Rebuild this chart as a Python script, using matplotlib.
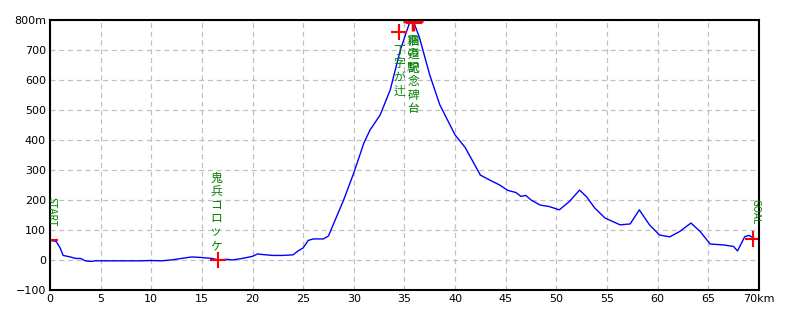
import matplotlib
matplotlib.use("Agg")
import matplotlib.pyplot as plt

plt.rcParams['font.family'] = ['DejaVu Sans']

# elevation profile (km, m)
dist = [0, 0.6, 1.0, 1.3, 2.0, 2.5, 3.0, 3.5, 4.0, 4.5, 5, 6, 7, 8, 9, 10, 11, 12, 13,
        14, 15, 16, 16.6, 17.5, 18, 19, 20, 20.5, 21, 22, 23, 24, 24.5, 25, 25.5, 26,
        27, 27.5, 28, 29, 30, 31, 31.6, 32.6, 33.6, 34.6, 35.5, 35.9, 36.5, 37.5, 38.5,
        40, 41, 42.5, 43.5, 44.4, 45.2, 46, 46.5, 47, 47.5, 48.4, 49.3, 50.3, 51.3,
        52.3, 53.0, 53.8, 54.8, 56.3, 57.3, 58.2, 59.2, 60.2, 61.2, 62.2, 63.3, 64.2,
        65.2, 66.5, 67.5, 67.9, 68.6, 69.0, 69.4]
elev = [65, 62, 40, 15, 10, 5, 5, -3, -5, -3, -3, -3, -3, -3, -3, -2, -3, 0, 5,
        10, 8, 5, 0, 2, 0, 5, 12, 20, 18, 15, 15, 17, 30, 40, 65, 70,
        70, 80, 120, 200, 290, 390, 433, 483, 567, 700, 790, 795, 740, 617, 517,
        417, 375, 283, 265, 250, 232, 225, 212, 215, 200, 183, 178, 167, 195,
        233, 210, 173, 140, 117, 120, 167, 117, 83, 77, 95, 123, 95,
        53, 50, 45, 30, 77, 82, 75]

# waypoints (km, m) and their labels
wp_x = [0, 16.6, 34.5, 35.8, 35.9, 69.4]
wp_y = [65, 0, 760, 795, 790, 70]
wp_label = ["START", "鬼兵コロッケ", "丁字が辻", "霧の駅", "旧道記念碑台", "GOAL"]

fig = plt.figure(figsize=(8, 3.2), dpi=100)
ax = fig.add_axes([0.0625, 0.094, 0.886, 0.8435])

ax.plot(dist, elev, color='blue', lw=1)
ax.plot(wp_x, wp_y, '+', color='red', ms=12, mew=1.5)
ax.plot(wp_x[3], wp_y[3], '+', color='red', ms=14, mew=2.5)

green = '#008000'
jp = ['Noto Sans CJK JP', 'DejaVu Sans']
for x, y, lab in zip(wp_x, wp_y, wp_label):
    if lab == "START":
        ax.text(0.15, 110, lab, rotation=-90, color=green, fontsize=7,
                ha='center', va='bottom', family=jp)
    elif lab == "GOAL":
        ax.text(69.7, 118, lab, rotation=-90, color=green, fontsize=7,
                ha='center', va='bottom', family=jp)
    elif lab == "鬼兵コロッケ":
        ax.text(x - 0.2, 295, "\n".join(lab), color=green, fontsize=8.5,
                ha='center', va='top', family=jp, linespacing=1.05)
    else:
        ax.text(x, y - 40, "\n".join(lab), color=green, fontsize=8.5,
                ha='center', va='top', family=jp, linespacing=1.05)

ax.set_xlim(0, 70)
ax.set_ylim(-100, 800)
xt = list(range(0, 71, 5))
yt = list(range(-100, 801, 100))
ax.set_xticks(xt)
ax.set_yticks(yt)
ax.set_xticklabels([str(v) for v in xt[:-1]] + ["70km"])
ax.set_yticklabels([str(v).replace('-', '−') for v in yt[:-1]] + ["800m"])
ax.tick_params(length=0, labelsize=8, pad=3)
ax.grid(True, color='#c0c0c0', linestyle=(0, (4, 3)), lw=0.9)
for s in ax.spines.values():
    s.set_color('black')
    s.set_linewidth(1.5)

fig.savefig("out.png", dpi=100)
